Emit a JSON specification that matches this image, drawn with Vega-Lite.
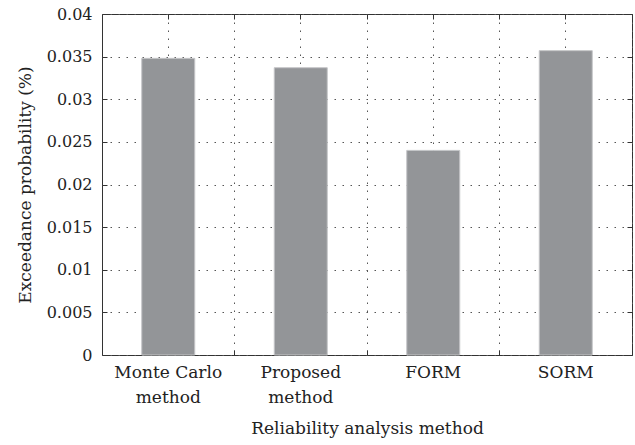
{
  "$schema": "https://vega.github.io/schema/vega-lite/v6.json",
  "width": 530,
  "height": 341,
  "autosize": {"type": "none"},
  "padding": {"left": 102, "top": 14, "right": 3, "bottom": 90},
  "background": "white",
  "data": {
    "values": [
      {"method": "Monte Carlo method", "prob": 0.0348},
      {"method": "Proposed method", "prob": 0.0337},
      {"method": "FORM", "prob": 0.0240},
      {"method": "SORM", "prob": 0.0357}
    ]
  },
  "config": {
    "view": {"stroke": "#333333", "strokeWidth": 1},
    "font": "DejaVu Serif",
    "axis": {
      "domain": false,
      "labelFont": "DejaVu Serif",
      "titleFont": "DejaVu Serif",
      "labelColor": "#222222",
      "titleColor": "#222222",
      "titleFontWeight": "normal",
      "tickColor": "#333333",
      "gridColor": "#555555",
      "gridDash": [1.5, 6.5],
      "gridWidth": 1,
      "gridOpacity": 1,
      "tickSize": -5
    }
  },
  "resolve": {"axis": {"x": "independent", "y": "independent"}},
  "layer": [
    {
      "mark": {"type": "bar", "color": "#939598", "stroke": "#c4c5c7", "strokeWidth": 1},
      "encoding": {
        "x": {
          "field": "method", "type": "nominal", "sort": null,
          "scale": {"paddingInner": 0.6, "paddingOuter": 0.3},
          "axis": {
            "orient": "bottom", "title": "Reliability analysis method",
            "titleFontSize": 17, "titlePadding": 15,
            "labelFontSize": 17, "labelAngle": 0, "labelPadding": 14,
            "labelLineHeight": 25, "labelBaseline": "top",
            "bandPosition": 0.5, "grid": true,
            "labelExpr": "datum.label == 'Monte Carlo method' ? ['Monte Carlo', 'method'] : datum.label == 'Proposed method' ? ['Proposed', 'method'] : datum.label"
          }
        },
        "y": {
          "field": "prob", "type": "quantitative",
          "scale": {"domain": [0, 0.04], "nice": false},
          "axis": {
            "orient": "left", "title": "Exceedance probability (%)",
            "titleFontSize": 17, "titlePadding": 12,
            "labelFontSize": 16, "labelPadding": 15,
            "values": [0, 0.005, 0.01, 0.015, 0.02, 0.025, 0.03, 0.035, 0.04],
            "format": "~g", "grid": true
          }
        }
      }
    },
    {
      "mark": {"type": "bar", "opacity": 0},
      "encoding": {
        "x": {
          "field": "method", "type": "nominal", "sort": null,
          "axis": {"orient": "bottom", "title": null, "labels": false, "bandPosition": 1.75, "grid": true}
        },
        "y": {
          "field": "prob", "type": "quantitative",
          "axis": {"orient": "right", "title": null, "labels": false, "grid": false,
                   "values": [0, 0.005, 0.01, 0.015, 0.02, 0.025, 0.03, 0.035, 0.04]}
        }
      }
    },
    {
      "mark": {"type": "bar", "opacity": 0},
      "encoding": {
        "x": {
          "field": "method", "type": "nominal", "sort": null,
          "axis": {"orient": "top", "title": null, "labels": false, "bandPosition": 0.5, "grid": false}
        },
        "y": {"field": "prob", "type": "quantitative", "axis": null}
      }
    },
    {
      "mark": {"type": "bar", "opacity": 0},
      "encoding": {
        "x": {
          "field": "method", "type": "nominal", "sort": null,
          "axis": {"orient": "top", "title": null, "labels": false, "bandPosition": 1.75, "grid": false}
        },
        "y": {"field": "prob", "type": "quantitative", "axis": null}
      }
    }
  ]
}
